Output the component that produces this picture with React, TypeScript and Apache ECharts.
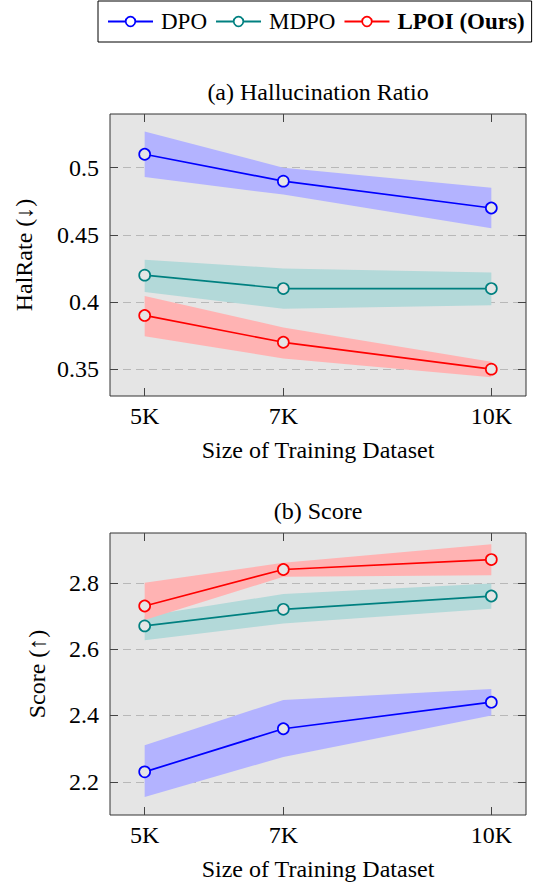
import React, { useEffect, useRef } from 'react';
import * as echarts from 'echarts';

const xValues = [5, 7, 10];
const xTickLabels = ['5K', '7K', '10K'];
const seriesNames = ['DPO', 'MDPO', 'LPOI (Ours)'];
const lineColors = ['#0000ff', '#008080', '#ff0000'];
const bandColors = ['#b3b3ff', '#b3d9d9', '#ffb3b3'];

// (a) Hallucination Ratio
const halDPO = [0.51, 0.49, 0.47];
const halDPOUpper = [0.527, 0.5, 0.485];
const halDPOLower = [0.493, 0.48, 0.455];
const halMDPO = [0.42, 0.41, 0.41];
const halMDPOUpper = [0.4315, 0.425, 0.422];
const halMDPOLower = [0.4075, 0.395, 0.3975];
const halLPOI = [0.39, 0.37, 0.35];
const halLPOIUpper = [0.4045, 0.381, 0.3555];
const halLPOILower = [0.3745, 0.358, 0.344];
const halTicks = [0.35, 0.4, 0.45, 0.5];
const halTickLabels = ['0.35', '0.4', '0.45', '0.5'];

// (b) Score
const scoreDPO = [2.23, 2.36, 2.44];
const scoreDPOUpper = [2.31, 2.447, 2.48];
const scoreDPOLower = [2.154, 2.275, 2.4];
const scoreMDPO = [2.67, 2.72, 2.76];
const scoreMDPOUpper = [2.7, 2.766, 2.798];
const scoreMDPOLower = [2.627, 2.677, 2.722];
const scoreLPOI = [2.73, 2.84, 2.87];
const scoreLPOIUpper = [2.8, 2.86, 2.916];
const scoreLPOILower = [2.688, 2.818, 2.823];
const scoreTicks = [2.2, 2.4, 2.6, 2.8];
const scoreTickLabels = ['2.2', '2.4', '2.6', '2.8'];

const FONT = "'Liberation Serif', 'Times New Roman', serif";

export default function App() {
  const ref = useRef<HTMLDivElement>(null);

  useEffect(() => {
    if (!ref.current) return;
    const chart = echarts.init(ref.current, undefined, { renderer: 'svg' });

    const panels = [
      {
        top: 114, min: 0.33, max: 0.54, ticks: halTicks, tickLabels: halTickLabels,
        yName: 'HalRate (↓)', nameGap: 74, title: '(a) Hallucination Ratio', titleY: 92,
        mid: [halDPO, halMDPO, halLPOI],
        upper: [halDPOUpper, halMDPOUpper, halLPOIUpper],
        lower: [halDPOLower, halMDPOLower, halLPOILower],
      },
      {
        top: 533, min: 2.1, max: 2.95, ticks: scoreTicks, tickLabels: scoreTickLabels,
        yName: 'Score (↑)', nameGap: 61, title: '(b) Score', titleY: 511,
        mid: [scoreDPO, scoreMDPO, scoreLPOI],
        upper: [scoreDPOUpper, scoreMDPOUpper, scoreLPOIUpper],
        lower: [scoreDPOLower, scoreMDPOLower, scoreLPOILower],
      },
    ];

    const grids: any[] = [];
    const xAxes: any[] = [];
    const yAxes: any[] = [];
    const series: any[] = [];
    const graphics: any[] = [];
    const tickStyle = { color: '#444', width: 1 };

    panels.forEach((p, g) => {
      grids.push({
        left: 110, top: p.top, width: 416, height: 282, show: true,
        backgroundColor: '#e5e5e5', borderColor: '#333', borderWidth: 1,
      });
      xAxes.push({
        type: 'value', gridIndex: g, min: 4.5, max: 10.5, position: 'bottom',
        axisLine: { show: false },
        axisTick: { show: true, inside: true, length: 8, customValues: xValues, lineStyle: tickStyle },
        axisLabel: {
          customValues: xValues, formatter: (v: number) => xTickLabels[xValues.indexOf(v)],
          fontFamily: FONT, fontSize: 24, color: '#000', margin: 8,
        },
        splitLine: { show: false },
        name: 'Size of Training Dataset', nameLocation: 'middle', nameGap: 42,
        nameTextStyle: { fontFamily: FONT, fontSize: 24, color: '#000' },
      });
      xAxes.push({
        type: 'value', gridIndex: g, min: 4.5, max: 10.5, position: 'top',
        axisLine: { show: false },
        axisTick: { show: true, inside: true, length: 8, customValues: xValues, lineStyle: tickStyle },
        axisLabel: { show: false },
        splitLine: { show: false },
      });
      yAxes.push({
        type: 'value', gridIndex: g, min: p.min, max: p.max, position: 'left',
        axisLine: { show: false },
        axisTick: { show: true, inside: true, length: 8, customValues: p.ticks, lineStyle: tickStyle },
        axisLabel: {
          customValues: p.ticks, formatter: (v: number) => p.tickLabels[p.ticks.indexOf(v)] ?? String(v),
          fontFamily: FONT, fontSize: 24, color: '#000', margin: 11,
        },
        splitLine: { show: true, lineStyle: { type: [8, 5], color: '#b8b8b8', width: 1 } },
        name: p.yName, nameLocation: 'middle', nameGap: p.nameGap,
        nameTextStyle: { fontFamily: FONT, fontSize: 24, color: '#000' },
      });
      yAxes.push({
        type: 'value', gridIndex: g, min: p.min, max: p.max, position: 'right',
        axisLine: { show: false },
        axisTick: { show: true, inside: true, length: 8, customValues: p.ticks, lineStyle: tickStyle },
        axisLabel: { show: false },
        splitLine: { show: false },
      });

      for (let i = 0; i < 3; i++) {
        const up = p.upper[i];
        const lo = p.lower[i];
        const fill = bandColors[i];
        series.push({
          type: 'custom', xAxisIndex: 2 * g, yAxisIndex: 2 * g, silent: true, z: 1 + i * 0.1,
          data: [[xValues[0], lo[0]]],
          renderItem: (params: any, api: any) => {
            if (params.dataIndex !== 0) return null;
            const pts: number[][] = [];
            for (let j = 0; j < xValues.length; j++) pts.push(api.coord([xValues[j], up[j]]));
            for (let j = xValues.length - 1; j >= 0; j--) pts.push(api.coord([xValues[j], lo[j]]));
            return { type: 'polygon', shape: { points: pts }, style: { fill }, silent: true };
          },
        });
      }
      for (let i = 0; i < 3; i++) {
        series.push({
          type: 'line', name: seriesNames[i], xAxisIndex: 2 * g, yAxisIndex: 2 * g, z: 3,
          data: xValues.map((x, j) => [x, p.mid[i][j]]),
          symbol: 'circle', symbolSize: 11,
          itemStyle: { color: '#e5e5e5', borderColor: lineColors[i], borderWidth: 1.7 },
          lineStyle: { color: lineColors[i], width: 1.7 },
          emphasis: { disabled: true },
        });
      }
      graphics.push({
        type: 'text', x: 318, y: p.titleY,
        style: { text: p.title, font: `24px ${FONT}`, fill: '#000', align: 'center', verticalAlign: 'middle' },
      });
    });

    chart.setOption({
      animation: false,
      backgroundColor: '#ffffff',
      grid: grids,
      xAxis: xAxes,
      yAxis: yAxes,
      series,
      graphic: graphics,
      legend: {
        top: 1, left: 98, width: 480, orient: 'horizontal', selectedMode: false,
        data: seriesNames.map((n, i) => ({
          name: n,
          itemStyle: { color: '#ffffff', borderColor: lineColors[i], borderWidth: 1.7 },
        })),
        itemWidth: 45, itemHeight: 12, itemGap: 8,
        borderColor: '#000', borderWidth: 1, borderRadius: 0, padding: [9, 7, 9, 9],
        formatter: (name: string) => (name === 'LPOI (Ours)' ? `{b|${name}}` : name),
        textStyle: {
          fontFamily: FONT, fontSize: 23, color: '#000', padding: [0, 0, 0, 3],
          rich: { b: { fontFamily: FONT, fontSize: 23, fontWeight: 'bold', color: '#000' } },
        },
      },
    });

    return () => chart.dispose();
  }, []);

  return <div ref={ref} style={{ position: 'absolute', left: 0, top: 0, width: 533, height: 885 }} />;
}
